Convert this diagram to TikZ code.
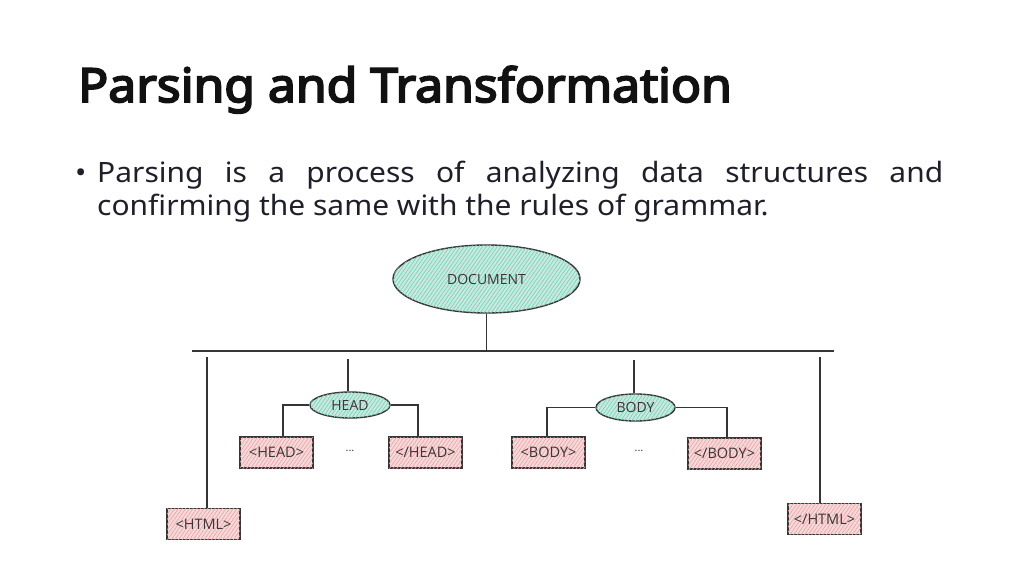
\documentclass[tikz,border=0pt]{standalone}
\usepackage{fontspec}
\setmainfont{Noto Sans}
\newfontfamily\bodyfont{Noto Sans}[FakeStretch=1.07]
\IfFontExistsTF{Noto Sans Bold}{\newfontfamily\titlefont{Noto Sans Bold}[FakeStretch=0.97]}{\newfontfamily\titlefont{Noto Sans}[FakeBold=4,FakeStretch=1.06]}
\newfontfamily\sketchfont{Open Sans}
\usetikzlibrary{shapes.geometric,patterns.meta}
\definecolor{titlec}{HTML}{111111}
\definecolor{bodyc}{HTML}{1F1F2A}
\definecolor{linec}{HTML}{353535}
\definecolor{tealfill}{HTML}{C4EBDF}
\definecolor{tealhatch}{HTML}{7FCBB4}
\definecolor{pinkfill}{HTML}{F8D9D9}
\definecolor{pinkhatch}{HTML}{E7A3A6}
\definecolor{labc}{HTML}{3E3436}
\begin{document}
\begin{tikzpicture}[x=1pt,y=-1pt,
  conn/.style={draw=linec,line width=1.3pt},
  ovalnode/.style={ellipse,draw=linec,line width=1.4pt,fill=tealfill,
    postaction={pattern={Lines[angle=55,distance=3pt,line width=0.6pt]},pattern color=tealhatch},
    inner sep=0pt,font=\sketchfont\fontsize{14}{16}\selectfont,text=labc},
  tagbox/.style={rectangle,draw=linec,line width=1.3pt,fill=pinkfill,
    postaction={pattern={Lines[angle=55,distance=3pt,line width=0.6pt]},pattern color=pinkhatch},
    minimum width=73pt,minimum height=31pt,inner sep=0pt,
    font=\sketchfont\fontsize{14.5}{16}\selectfont,text=labc},
  dotsnode/.style={font=\sketchfont\fontsize{11}{12}\selectfont,text=labc}
]
\useasboundingbox[fill=white] (0,0) rectangle (1024,575);
% title and text
\node[anchor=base west,inner sep=0pt,text=titlec,font=\titlefont\fontsize{47}{54}\selectfont] (title) at (78,102) {Parsing and Transformation};
\node[anchor=base west,inner sep=0pt,text=bodyc,font=\bodyfont\fontsize{28}{33}\selectfont] (bullet) at (75,182) {•};
\node[anchor=base west,inner sep=0pt,text=bodyc,font=\bodyfont\fontsize{28}{33}\selectfont] (line1) at (97,182) {\makebox[846pt][s]{Parsing is a process of analyzing data structures and}};
\node[anchor=base west,inner sep=0pt,text=bodyc,font=\bodyfont\fontsize{28}{33}\selectfont] (line2) at (97,215) {confirming the same with the rules of grammar.};
% nodes
\node[ovalnode,minimum width=187pt,minimum height=68pt] (doc) at (486.5,279) {DOCUMENT};
\node[ovalnode,minimum width=80pt,minimum height=26pt] (head) at (350,405) {HEAD};
\node[ovalnode,minimum width=79pt,minimum height=27pt] (body) at (635.5,407.5) {BODY};
\node[tagbox] (html) at (203.5,524) {<HTML>};
\node[tagbox] (chtml) at (824.5,519) {</HTML>};
\node[tagbox] (ohead) at (276.5,452.5) {<HEAD>};
\node[tagbox] (chead) at (425.5,452.5) {</HEAD>};
\node[tagbox] (obody) at (548.5,452.5) {<BODY>};
\node[tagbox] (cbody) at (724.5,453.5) {</BODY>};
\node[dotsnode] (hdots) at (350,451) {...};
\node[dotsnode] (bdots) at (639,451) {...};
% connectors
\coordinate (barL) at (192,351);
\coordinate (barR) at (834,351);
\coordinate (htop) at (207,357);
\coordinate (chtop) at (820,357);
\coordinate (headtop) at (348,359);
\coordinate (bodytop) at (634,360);
\draw[conn] (barL) -- (barR);
\draw[conn] (doc.south) -- (doc.south |- barL);
\draw[conn] (htop) -- (htop |- html.north);
\draw[conn] (chtop) -- (chtop |- chtml.north);
\draw[conn] (headtop) -- (headtop |- head.north);
\draw[conn] (bodytop) -- (bodytop |- body.north);
\draw[conn] (head.west) -| ([xshift=6.5pt]ohead.north);
\draw[conn] (head.east) -| ([xshift=-7.5pt]chead.north);
\draw[conn] (body.west) -| ([xshift=-1.5pt]obody.north);
\draw[conn] (body.east) -| ([xshift=2.5pt]cbody.north);
\end{tikzpicture}
\end{document}
